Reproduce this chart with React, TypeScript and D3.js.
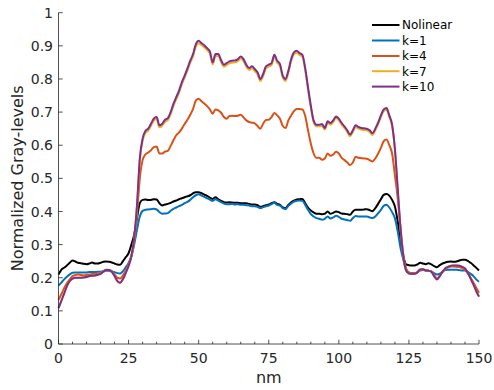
import React from "react";
import * as d3 from "d3";

const xNm: number[] = Array.from({ length: 151 }, (_, i) => i);

const nolinear: number[] = [
  0.21, 0.224, 0.23, 0.237, 0.245, 0.252, 0.249, 0.245, 0.244, 0.242,
  0.241, 0.243, 0.246, 0.243, 0.243, 0.245, 0.248, 0.249, 0.248, 0.246,
  0.243, 0.24, 0.239, 0.25, 0.262, 0.274, 0.3, 0.33, 0.38, 0.425,
  0.435, 0.436, 0.435, 0.435, 0.437, 0.436, 0.425, 0.418, 0.421, 0.423,
  0.426, 0.43, 0.433, 0.437, 0.44, 0.443, 0.446, 0.449, 0.455, 0.458,
  0.458, 0.455, 0.451, 0.447, 0.442, 0.438, 0.443, 0.437, 0.432, 0.428,
  0.427, 0.428, 0.427, 0.426, 0.426, 0.425, 0.425, 0.425, 0.423, 0.421,
  0.421, 0.419, 0.414, 0.416, 0.419, 0.421, 0.425, 0.428, 0.423, 0.42,
  0.412, 0.41, 0.42, 0.428, 0.433, 0.436, 0.437, 0.438, 0.425, 0.412,
  0.403, 0.397, 0.393, 0.393, 0.392, 0.393, 0.4, 0.393, 0.396, 0.4,
  0.398, 0.394, 0.393, 0.392, 0.39, 0.4, 0.405, 0.405, 0.405, 0.406,
  0.407, 0.404, 0.401, 0.41, 0.423, 0.437, 0.45, 0.453, 0.448, 0.435,
  0.415, 0.37, 0.31, 0.265, 0.24, 0.238, 0.237, 0.237, 0.24, 0.245,
  0.243, 0.241, 0.244, 0.24, 0.235, 0.232, 0.238, 0.243, 0.246, 0.248,
  0.249, 0.248, 0.249, 0.252, 0.254, 0.254, 0.251, 0.245, 0.238, 0.23,
  0.222,
];

const k1: number[] = [
  0.176, 0.185, 0.195, 0.203, 0.21, 0.215, 0.216, 0.216, 0.216, 0.216,
  0.216, 0.217, 0.217, 0.217, 0.218, 0.218, 0.22, 0.221, 0.221, 0.219,
  0.217, 0.214, 0.213, 0.22, 0.232, 0.245, 0.265, 0.3, 0.345, 0.385,
  0.402, 0.405, 0.406, 0.407, 0.408, 0.406, 0.398, 0.393, 0.394, 0.395,
  0.402, 0.408, 0.412, 0.416, 0.42, 0.425, 0.429, 0.435, 0.443, 0.449,
  0.452, 0.448, 0.444, 0.44, 0.436, 0.432, 0.437, 0.433, 0.428, 0.424,
  0.422, 0.422, 0.423, 0.421, 0.422, 0.42, 0.42, 0.419, 0.418, 0.416,
  0.416, 0.414, 0.41, 0.413, 0.416, 0.418, 0.422, 0.426, 0.42, 0.418,
  0.41, 0.407, 0.417, 0.424, 0.43, 0.432, 0.433, 0.432, 0.42, 0.405,
  0.392, 0.385, 0.38, 0.378, 0.375, 0.378, 0.385, 0.379, 0.382, 0.387,
  0.384, 0.378, 0.376, 0.374, 0.372, 0.38, 0.386, 0.385, 0.385, 0.385,
  0.385, 0.382, 0.38, 0.385, 0.394, 0.405, 0.417, 0.42, 0.412, 0.398,
  0.38, 0.34, 0.29, 0.255, 0.225, 0.215, 0.213, 0.213, 0.216, 0.222,
  0.223, 0.222, 0.221, 0.219, 0.214, 0.21, 0.212, 0.218, 0.223, 0.224,
  0.224, 0.224, 0.224, 0.223, 0.222, 0.222, 0.218, 0.212, 0.205, 0.195,
  0.188,
];

const k4: number[] = [
  0.133, 0.15, 0.168, 0.183, 0.195, 0.205, 0.208, 0.21, 0.208, 0.207,
  0.208, 0.21, 0.211, 0.212, 0.212, 0.215, 0.22, 0.224, 0.224, 0.22,
  0.21, 0.2, 0.198, 0.207, 0.222, 0.24, 0.265, 0.31, 0.39, 0.5,
  0.555, 0.572, 0.578, 0.585, 0.594, 0.596, 0.575, 0.575, 0.581, 0.583,
  0.598, 0.615, 0.63, 0.638, 0.65, 0.664, 0.677, 0.692, 0.71, 0.735,
  0.74, 0.733, 0.726, 0.718, 0.708, 0.695, 0.708, 0.705, 0.698, 0.685,
  0.68, 0.688, 0.689, 0.688, 0.689, 0.692, 0.684, 0.675, 0.67, 0.668,
  0.666, 0.658, 0.65, 0.665, 0.676, 0.677, 0.685, 0.697, 0.69, 0.68,
  0.658, 0.652, 0.675, 0.69, 0.703, 0.709, 0.709, 0.708, 0.688, 0.645,
  0.605, 0.575, 0.562, 0.562, 0.556, 0.56, 0.575, 0.568, 0.572, 0.58,
  0.575, 0.562, 0.555, 0.548, 0.54, 0.548, 0.565, 0.562, 0.561, 0.56,
  0.559, 0.555, 0.551, 0.56, 0.574, 0.592, 0.612, 0.617, 0.6, 0.575,
  0.51, 0.44, 0.35, 0.27, 0.228, 0.216, 0.214, 0.214, 0.217, 0.224,
  0.226, 0.222, 0.221, 0.219, 0.208, 0.198, 0.206, 0.218, 0.226, 0.231,
  0.234, 0.234, 0.233, 0.232, 0.229, 0.224, 0.213, 0.2, 0.186, 0.17,
  0.155,
];

const k7: number[] = [
  0.108, 0.13, 0.152, 0.175, 0.19, 0.197, 0.2, 0.2, 0.2, 0.201,
  0.202, 0.205, 0.206, 0.207, 0.209, 0.212, 0.218, 0.223, 0.223, 0.218,
  0.205, 0.19, 0.185, 0.196, 0.215, 0.236, 0.264, 0.318, 0.415, 0.553,
  0.614, 0.637, 0.644, 0.659, 0.674, 0.679, 0.654, 0.659, 0.671, 0.676,
  0.694, 0.719, 0.739, 0.759, 0.784, 0.804, 0.826, 0.849, 0.869, 0.898,
  0.908, 0.902, 0.896, 0.887, 0.877, 0.844, 0.869, 0.869, 0.851, 0.837,
  0.842, 0.847, 0.849, 0.85, 0.854, 0.862, 0.854, 0.837, 0.827, 0.832,
  0.824, 0.814, 0.794, 0.809, 0.832, 0.837, 0.842, 0.867, 0.849, 0.839,
  0.804, 0.794, 0.819, 0.854, 0.874, 0.879, 0.872, 0.867, 0.827, 0.77,
  0.715, 0.67, 0.657, 0.657, 0.659, 0.647, 0.667, 0.662, 0.67, 0.682,
  0.675, 0.662, 0.652, 0.64, 0.627, 0.64, 0.655, 0.65, 0.647, 0.646,
  0.645, 0.64, 0.631, 0.645, 0.663, 0.685, 0.703, 0.707, 0.685, 0.657,
  0.586, 0.467, 0.348, 0.264, 0.222, 0.213, 0.212, 0.212, 0.216, 0.225,
  0.226, 0.222, 0.221, 0.218, 0.205, 0.195, 0.205, 0.218, 0.229, 0.233,
  0.236, 0.237, 0.237, 0.236, 0.233, 0.228, 0.215, 0.198, 0.18, 0.16,
  0.143,
];

const k10: number[] = [
  0.108, 0.13, 0.152, 0.175, 0.19, 0.197, 0.2, 0.2, 0.2, 0.201,
  0.202, 0.205, 0.206, 0.207, 0.209, 0.212, 0.218, 0.223, 0.223, 0.218,
  0.205, 0.19, 0.185, 0.196, 0.215, 0.236, 0.265, 0.32, 0.42, 0.56,
  0.62, 0.643, 0.65, 0.665, 0.68, 0.685, 0.66, 0.665, 0.677, 0.682,
  0.7, 0.725, 0.745, 0.765, 0.79, 0.81, 0.832, 0.855, 0.875, 0.905,
  0.915, 0.908, 0.902, 0.893, 0.883, 0.85, 0.875, 0.875, 0.857, 0.843,
  0.848, 0.853, 0.855, 0.856, 0.86, 0.868, 0.86, 0.843, 0.833, 0.838,
  0.83, 0.82, 0.8, 0.815, 0.838, 0.843, 0.848, 0.873, 0.855, 0.845,
  0.81, 0.8, 0.825, 0.86, 0.88, 0.885, 0.878, 0.873, 0.833, 0.775,
  0.72, 0.675, 0.662, 0.662, 0.664, 0.652, 0.672, 0.667, 0.675, 0.687,
  0.68, 0.667, 0.657, 0.645, 0.632, 0.645, 0.66, 0.655, 0.652, 0.651,
  0.65, 0.645, 0.636, 0.65, 0.668, 0.69, 0.708, 0.712, 0.69, 0.662,
  0.59, 0.47, 0.35, 0.265, 0.222, 0.213, 0.212, 0.212, 0.216, 0.225,
  0.226, 0.222, 0.221, 0.218, 0.205, 0.195, 0.205, 0.218, 0.229, 0.233,
  0.236, 0.237, 0.237, 0.236, 0.233, 0.228, 0.215, 0.198, 0.18, 0.16,
  0.143,
];

const seriesNames: string[] = ["Nolinear", "k=1", "k=4", "k=7", "k=10"];
const seriesColors: string[] = ["#000000", "#0072BD", "#D95319", "#EDB120", "#7E2F8E"];
const xTicks: number[] = [0, 25, 50, 75, 100, 125, 150];
const yTicks: number[] = [0, 0.1, 0.2, 0.3, 0.4, 0.5, 0.6, 0.7, 0.8, 0.9, 1];

export default function App() {
  const W = 494, H = 390;
  const left = 58.5, right = 479, top = 12.7, bottom = 344;
  const x = d3.scaleLinear().domain([0, 150]).range([left, right]);
  const y = d3.scaleLinear().domain([0, 1]).range([bottom, top]);
  const allSeries = [nolinear, k1, k4, k7, k10];
  const line = d3
    .line<number>()
    .x((_, i) => x(xNm[i]))
    .y((d) => y(d))
    .curve(d3.curveMonotoneX);
  const minorX = d3.range(0, 151, 5).filter((v) => v % 25 !== 0);
  const font = "'DejaVu Sans', sans-serif";
  const axisColor = "#262626";
  const tickLen = 4.2;
  const legendRows = [25, 40.5, 56, 71.2, 86.6];

  return (
    <svg width={W} height={H} style={{ position: "absolute", left: 0, top: 0, background: "#fff" }} fontFamily={font}>
      <rect x={0} y={0} width={W} height={H} fill="#fff" />
      {allSeries.map((s, i) => (
        <path key={i} d={line(s) || ""} fill="none" stroke={seriesColors[i]} strokeWidth={2} strokeLinejoin="round" />
      ))}
      {/* axes */}
      <line x1={left} x2={right} y1={bottom} y2={bottom} stroke={axisColor} strokeWidth={0.8} />
      <line x1={left} x2={left} y1={top} y2={bottom} stroke={axisColor} strokeWidth={0.8} />
      {xTicks.map((t) => (
        <g key={"xt" + t}>
          <line x1={x(t)} x2={x(t)} y1={bottom} y2={bottom - tickLen} stroke={axisColor} strokeWidth={0.8} />
          <text x={x(t)} y={363} fontSize={14} textAnchor="middle" fill={axisColor}>
            {t}
          </text>
        </g>
      ))}
      {minorX.map((t) => (
        <line key={"mx" + t} x1={x(t)} x2={x(t)} y1={bottom} y2={bottom - 2.3} stroke={axisColor} strokeWidth={0.8} />
      ))}
      {yTicks.map((t) => (
        <g key={"yt" + t}>
          <line x1={left} x2={left + tickLen} y1={y(t)} y2={y(t)} stroke={axisColor} strokeWidth={0.8} />
          <text x={53} y={y(t)} dy="0.36em" fontSize={14} textAnchor="end" fill={axisColor}>
            {String(t)}
          </text>
        </g>
      ))}
      <text x={(left + right) / 2} y={383} fontSize={16} textAnchor="middle" fill={axisColor}>
        nm
      </text>
      <text
        transform={`translate(23, ${(top + bottom) / 2}) rotate(-90)`}
        fontSize={16}
        textAnchor="middle"
        fill={axisColor}
      >
        Normalized Gray-levels
      </text>
      {/* legend */}
      {seriesNames.map((n, i) => (
        <g key={"lg" + i}>
          <line x1={372} x2={399.5} y1={legendRows[i]} y2={legendRows[i]} stroke={seriesColors[i]} strokeWidth={2} />
          <text x={402} y={legendRows[i]} dy="0.36em" fontSize={12} fill="#000">
            {n}
          </text>
        </g>
      ))}
    </svg>
  );
}
